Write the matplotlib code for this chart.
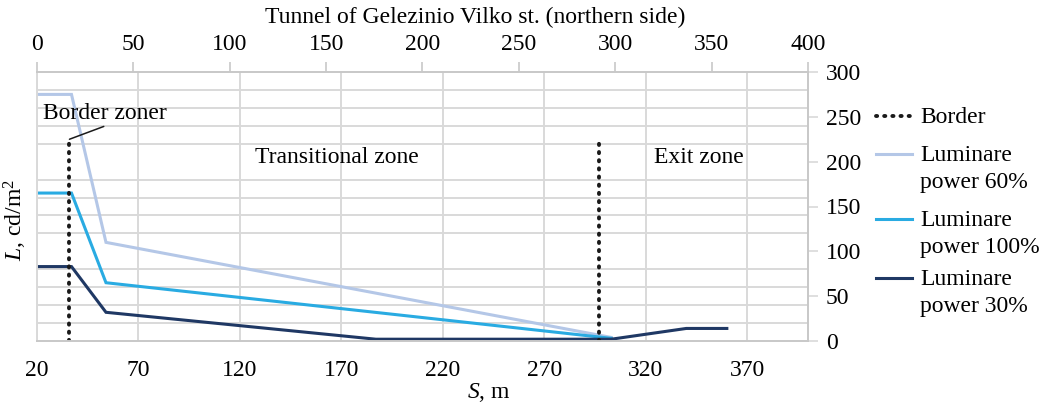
import matplotlib
matplotlib.use("Agg")
import matplotlib.pyplot as plt
from matplotlib.ticker import MultipleLocator, FixedLocator
from matplotlib.lines import Line2D

# distance along the tunnel, m
s_main = [20, 37, 54, 303]
s_low = [20, 37, 54, 187, 303, 340, 360]

# luminance, cd/m2
lum_60 = [275, 275, 110, 4]
lum_100 = [165, 165, 65, 3]
lum_30 = [83, 83, 32, 2, 2, 14, 14]

# zone borders
border_s = [36, 297]
border_top = 225

c60 = "#B4C7E7"
c100 = "#29ABE2"
c30 = "#1F3864"
grid_c = "#D9D9D9"
fam = "Liberation Serif"

plt.rcParams["font.family"] = fam
plt.rcParams["mathtext.fontset"] = "custom"
plt.rcParams["mathtext.rm"] = fam
plt.rcParams["mathtext.it"] = fam + ":italic"
fs = 17

fig = plt.figure(figsize=(10.56, 4.05), dpi=100)
ax = fig.add_axes([37 / 1056, 64 / 405, 771 / 1056, 269 / 405])

ax.plot(s_main, lum_60, color=c60, lw=2.2, solid_joinstyle="miter")
ax.plot(s_main, lum_100, color=c100, lw=2.2, solid_joinstyle="miter")
ax.plot(s_low, lum_30, color=c30, lw=2.2, solid_joinstyle="miter")
for b in border_s:
    ax.plot([b, b], [0, border_top], color="#1a1a1a", lw=2.8, ls=(0, (0.3, 1.8)),
            dash_capstyle="round")

ax.set_xlim(20, 400)
ax.set_ylim(0, 300)

# grid: vertical every 50 m, horizontal every 20
ax.xaxis.set_major_locator(FixedLocator(list(range(20, 371, 50))))
ax.yaxis.set_minor_locator(MultipleLocator(20))
ax.yaxis.set_major_locator(FixedLocator(list(range(0, 301, 50))))
ax.grid(True, axis="x", which="major", color=grid_c, lw=1.4)
ax.grid(True, axis="y", which="minor", color=grid_c, lw=1.4)
ax.set_axisbelow(True)

ax.yaxis.tick_right()
ax.tick_params(axis="y", which="major", length=7, color=grid_c, width=1.2,
               labelsize=fs, pad=6)
ax.tick_params(axis="y", which="minor", length=0)
ax.tick_params(axis="x", length=0, labelsize=fs, pad=14)
for sp in ax.spines.values():
    sp.set_color("#C8C8C8")
    sp.set_linewidth(1.4)
ax.spines["left"].set_color(grid_c)

# top scale measured from the tunnel portal
top = ax.secondary_xaxis("top", functions=(lambda s: (s - 20) * 400 / 380,
                                           lambda t: t * 380 / 400 + 20))
top.xaxis.set_major_locator(FixedLocator(list(range(0, 401, 50))))
top.tick_params(length=7, color="#C8C8C8", width=1.2, labelsize=fs, pad=5)
top.spines["top"].set_visible(False)

fig.text(475 / 1056, 1 - 17 / 405, "Tunnel of Gelezinio Vilko st. (northern side)",
         ha="center", va="center", fontsize=fs)
fig.text(489 / 1056, 1 - 393 / 405, r"$S$, m", ha="center", va="center", fontsize=fs)
fig.text(15 / 1056, 1 - 220 / 405, r"$L$, cd/m$^2$", ha="center", va="center",
         rotation=90, fontsize=fs)

# zone labels
ax.text(0.389, 0.684, "Transitional zone", transform=ax.transAxes, ha="center",
        va="center", fontsize=fs)
ax.text(0.859, 0.684, "Exit zone", transform=ax.transAxes, ha="center",
        va="center", fontsize=fs)
ax.annotate("Border zoner", xy=(border_s[0], border_top), xytext=(0.008, 0.847),
            textcoords="axes fraction", fontsize=fs, va="center", ha="left",
            arrowprops=dict(arrowstyle="-", color="#1a1a1a", lw=1.1,
                            shrinkA=0, shrinkB=0,
                            relpos=(0.55, 0.0)))

# legend drawn at the first line of each entry
entries = [("Border", "#1a1a1a", (0, (0.3, 1.8)), 116, 2.8),
           ("Luminare\npower 60%", c60, "-", 154, 2.2),
           ("Luminare\npower 100%", c100, "-", 219, 2.2),
           ("Luminare\npower 30%", c30, "-", 278, 2.2)]
for lab, col, ls, y, lw in entries:
    yf = 1 - y / 405
    fig.add_artist(Line2D([876 / 1056, 912 / 1056], [yf, yf], color=col, ls=ls,
                          lw=lw, dash_capstyle="round",
                          transform=fig.transFigure))
    fig.text(920 / 1056, yf + 9 / 405, lab, ha="left", va="top", fontsize=fs,
             linespacing=1.37)

fig.savefig("out.png", dpi=100)
